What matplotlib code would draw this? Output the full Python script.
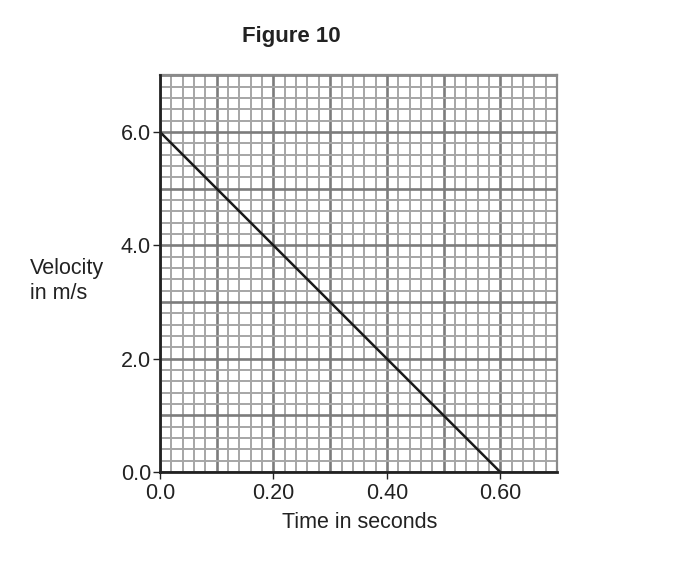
import numpy as np
import matplotlib.pyplot as plt

plt.rcParams['font.family'] = ['Liberation Sans', 'DejaVu Sans']

# velocity-time data
time_s = [0.0, 0.60]
velocity = [6.0, 0.0]

x_ticks = [0.0, 0.20, 0.40, 0.60]
x_labels = ["0.0", "0.20", "0.40", "0.60"]
y_ticks = [0.0, 2.0, 4.0, 6.0]
y_labels = ["0.0", "2.0", "4.0", "6.0"]

fig = plt.figure(figsize=(6.88, 5.62), dpi=100)
ax = fig.add_axes([0.2326, 0.160, 0.5770, 0.706])

ax.set_xlim(0, 0.70)
ax.set_ylim(0, 7.0)

# graph paper grid
for v in np.arange(0, 0.701, 0.02):
    major = abs(v / 0.1 - round(v / 0.1)) < 1e-6
    ax.axvline(v, color="#7c7c7c" if major else "#a6a6a6",
               lw=1.9 if major else 1.4, zorder=1)
for v in np.arange(0, 7.01, 0.2):
    major = abs(v - round(v)) < 1e-6
    ax.axhline(v, color="#7c7c7c" if major else "#a6a6a6",
               lw=1.9 if major else 1.4, zorder=1)

ax.plot(time_s, velocity, color="#1a1a1a", lw=1.8, zorder=3)

ax.set_xticks(x_ticks)
ax.set_xticklabels(x_labels)
ax.set_yticks(y_ticks)
ax.set_yticklabels(y_labels)
ax.tick_params(which="major", length=5, width=1, labelsize=15.5, colors="#222222")
ax.tick_params(axis="x", pad=3)
ax.tick_params(axis="y", pad=1.5)

for side in ["top", "right"]:
    ax.spines[side].set_color("#8a8a8a")
    ax.spines[side].set_linewidth(1.6)
for side in ["left", "bottom"]:
    ax.spines[side].set_color("#222222")
    ax.spines[side].set_linewidth(2)
    ax.spines[side].set_zorder(4)

fig.text(0.424, 0.935, "Figure 10", ha="center", va="center",
         fontsize=16, fontweight="bold", color="#222222")
fig.text(0.043, 0.500, "Velocity\nin m/s", ha="left", va="center",
         fontsize=15.5, color="#222222", linespacing=1.2)
fig.text(0.523, 0.070, "Time in seconds", ha="center", va="center",
         fontsize=15.5, color="#222222")

fig.savefig("out.png", dpi=100)
